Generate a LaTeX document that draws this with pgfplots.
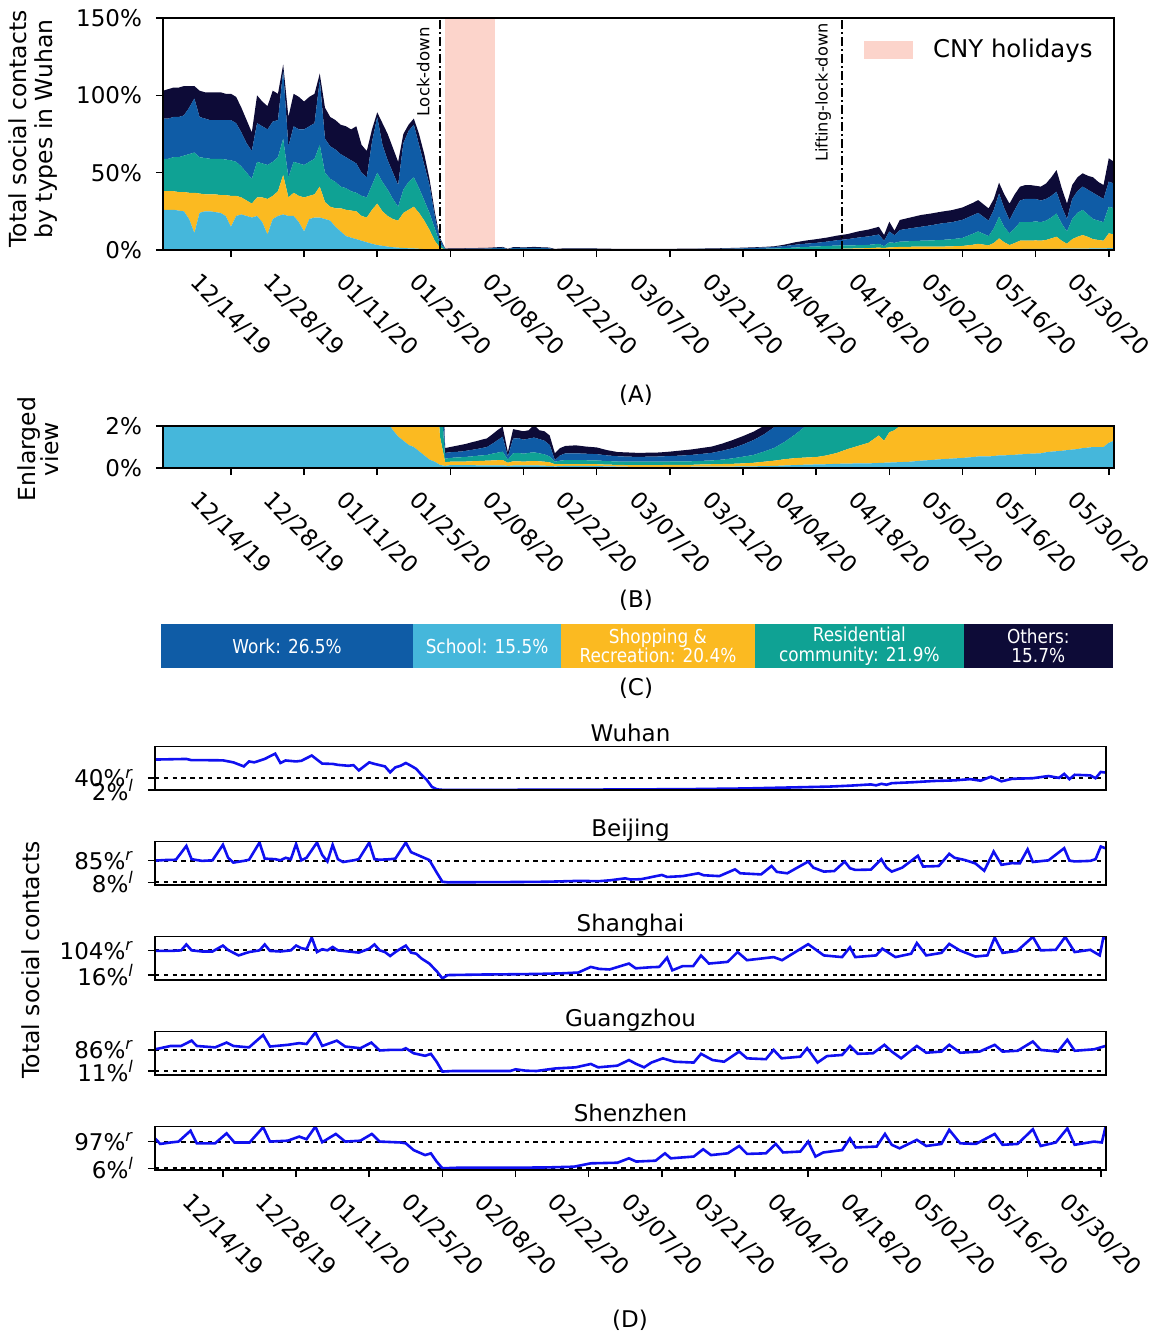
\documentclass[border=0pt]{standalone}
\usepackage{fontspec}
\setmainfont{DejaVu Sans}
\newfontfamily\condfont[FakeStretch=0.88]{DejaVu Sans}
\usepackage{pgfplots}
\usepackage{pgfplotstable}
\usepgfplotslibrary{fillbetween}
\pgfplotsset{compat=1.18}

\definecolor{cschool}{HTML}{45B7DB}
\definecolor{cshop}{HTML}{FBBA21}
\definecolor{cres}{HTML}{0FA294}
\definecolor{cwork}{HTML}{0F5CA6}
\definecolor{cother}{HTML}{0D0B37}
\definecolor{ccny}{HTML}{FCD4CB}
\definecolor{cline}{HTML}{1010F0}

\newcommand{\fs}{\fontsize{11.5}{13}\selectfont}

% stacked components (%): school, shopping, residential, work, others
\pgfplotstableread{
d S P R W O
-13 26 12 21 26 18
-12 26 12 21 26 19
-11 26 12 22 26 19
-10 25.5 12 22.5 26 19
-9 25 12.5 23.5 26 19
-8 20 17 25 30 14
-7 11 26 26 35 8
-6 24 12.5 23.5 26 17
-5 25 11 23.5 25.5 17
-4 25 11 23 25 18
-3 24.5 11.5 23 25 18
-2 24 11.5 23.5 25 18
-1 22 13.5 23 25.5 17
0 15 20 23 26 17
1 22 13 22 25 17
2 23 11 20 22 16
3 22 10 18 19 15
4 21 9 16 18 12
5 22 12 23 25 18
6 18 16 22 24 16
7 10 23 22 23 15
8 20 15 22 26 20
9 22 16 22 24 17
10 23 25.5 23.5 44 4
11 22 12 13 20 19
12 22 15 20 23 21
13 18 17 21 22 21
14 12 22 21 23 18
15 20 15 22 23 19
16 21 15 23 23 19
17 21 20 27 42 4
18 20 11 19 22 20
19 19 9 18 21 19
20 15 12 17 21 19
21 12 15 14 21 19
22 9 17 14 20 20
23 8 17.5 12.5 20 20
24 7 18 12 19 24
25 6 16 13 15 18
26 5 16 13 13 17
27 4 22 16 28 8
28 3.2 26.8 20 36 3
29 2.7 22.3 19 24 14
30 2.2 19.8 17 19 17
31 1.8 18.2 13 17 16
32 1.5 17.5 9 14 15
33 1.3 22.7 15 30 6
34 1.1 24.9 18 33 4
35 1.0 27 19 34 4
36 0.8 23.2 16 28 7
37 0.6 18.4 13 23 7
38 0.4 12.6 11 18 4
39 0.3 5.7 8 8 3
40 0.15 1.35 2.5 3 1
41 0.1 0.18 0.17 0.27 0.23
42 .14 .16 .18 .27 .25
43 .14 .16 .20 .27 .28
44 .14 .16 .21 .27 .32
45 .14 .17 .22 .29 .33
46 .14 .18 .23 .31 .36
47 .13 .20 .25 .32 .38
48 .13 .21 .26 .35 .40
49 .13 .22 .27 .38 .41
50 .13 .23 .32 .47 .45
51 .13 .24 .36 .59 .48
52 .13 .25 .40 .71 .48
53 .10 .15 .15 .15 .20
54 .12 .20 .38 .70 .45
55 .12 .20 .40 .70 .38
56 .12 .18 .38 .67 .40
57 .12 .20 .40 .68 .40
58 .12 .21 .42 .70 .60
59 .12 .20 .38 .68 .42
60 .11 .19 .35 .65 .45
61 .10 .17 .28 .55 .45
62 .08 .10 .12 .08 .32
63 .09 .10 .16 .25 .35
64 .10 .09 .19 .32 .35
66 .10 .09 .19 .32 .38
68 .10 .09 .18 .31 .34
70 .09 .09 .18 .30 .32
72 .08 .08 .17 .27 .25
74 .07 .08 .16 .25 .20
76 .06 .08 .16 .24 .20
78 .06 .08 .16 .23 .19
80 .06 .08 .16 .24 .19
82 .06 .08 .16 .25 .19
84 .06 .09 .16 .26 .21
86 .06 .09 .17 .27 .24
88 .06 .09 .17 .30 .26
90 .07 .10 .17 .33 .28
92 .07 .11 .18 .36 .30
94 .07 .12 .21 .42 .34
96 .07 .13 .26 .48 .39
98 .08 .14 .32 .58 .40
100 .08 .17 .37 .71 .40
102 .09 .21 .48 .82 .40
104 .10 .25 .61 .99 .45
106 .12 .30 .83 1.35 .90
108 .14 .33 1.13 1.8 1.6
110 .16 .34 1.5 2.1 2.0
112 .17 .35 1.78 2.3 2.4
114 .18 .42 2.0 2.8 2.6
116 .20 .52 2.18 3.4 3.0
118 .21 .69 2.1 4.0 3.3
120 .22 .83 2.05 4.9 4.0
122 .22 .98 2.1 5.5 4.4
124 .24 1.31 2.45 6.0 5.0
125 .25 1.05 1.2 3.5 3.7
126 .26 1.44 3.3 7.0 6.3
127 .27 1.53 2.8 4.9 3.0
128 .28 1.72 3.4 7.5 6.5
130 .30 1.8 3.6 8.3 7.0
132 .35 1.85 3.8 9.0 7.6
134 .38 1.82 4.0 9.8 7.6
136 .42 1.78 4.3 10.7 7.6
138 .45 1.95 4.6 11.0 7.8
140 .48 2.12 5.2 11.7 8.0
142 .52 2.88 7.1 12.0 8.0
143 .55 3.45 8.0 12.0 8.3
145 .55 2.45 6.0 10.0 7.9
146 .57 3.93 9.5 12 7
147 .6 6.9 14.1 15.0 6.9
148 .6 4.4 10 12 9
149 .62 2.58 7.6 8.6 10.6
150 .63 3.87 9.5 12 10
151 .65 5.35 12 14 8.9
152 .66 5.34 12 15 9
153 .68 5.32 12 15 9
154 .69 5.51 12.3 14.5 8.5
155 .7 5.3 12 14 9
156 .75 5.75 12.5 14 10
157 .78 6.72 13.5 14 12
158 .8 7.8 15.1 14 14
159 .82 5.18 11 11 12
160 .85 3.15 8 8 10
161 .88 6.12 13 13 9
162 .9 7.6 15.5 14 9
163 .95 8.75 16.2 15.1 8.6
164 .97 7.53 14.5 16 9
165 1.0 6 13 17 10
166 1.0 5.5 12.5 16 9
167 1.0 5 12 15 9
168 1.2 9.6 17.2 16.2 15.1
169 1.3 8.7 17 16 14
}\stacktab

\pgfplotstableread{
d v
-13 100
-10 101
-7 102
-6 98
-3 98
0 97.5
2 91
4 78
5 94
6 91
8 102
10 119
11 89
12 97
14 94
15 96
17 113
19 87
21 86
22 83
24 80
25 82
26 65
28 91
29 86
31 78
32 59
33 75
34 80
35 89
36 80
37 70
38 51
39 35
40 12
41 4
42 2.5
50 2.5
60 2.8
70 3.3
80 4
90 5
100 7
108 10
116 13
120 16
124 20
125 17
126 22
127 19
128 24
132 27
136 31
140 33
143 37
145 32
147 45
149 30
151 38
155 40
158 47
160 41
161 54
162 37
163 51
166 49
167 40
168 60
169 58
}\wuhan

\pgfplotstableread{
d v
-13 85
-11 87
-9 88
-7 137
-6 90
-4 84
-2 86
0 141
1 95
2 78
4 84
5 88
7 149
8 92
10 90
11 86
12 95
13 90
14 144
15 86
16 95
18 149
19 105
20 82
21 141
22 90
23 80
25 86
26 90
28 149
29 90
30 88
32 90
33 92
35 149
36 115
38 99
39.5 87
41 40
42 10
43 8
50 8.5
56 9
62 10
68 13
72 12
74 15
77 22
78 18
80 19
84 34
85 27
88 30
91 40
92 33
95 30
98 54
99 40
101 38
103 36
105 66
106 45
108 40
112 81.5
113 60
115 46
117 48
119 81.5
120 58
121 52
124 53
126 90
127 60
128 46
130 60
133 102
134 64
136 65
137 66
139 109
140 95
142 87
144 75
145.7 49
147.5 117
149 70
151 76
152.5 75
154 125
155 80
158 86
161 129
162 85
163 82
166 84
167 90
168 135
169 128
}\beijing

\pgfplotstableread{
d v
-13 102
-10 102
-8 104
-7 125
-6 104
-4 100
-2 100
0 121
1 105
3 86
5 98
7 104
8 125
9 102
11 100
13 104
14 121
15 112
16 108
17 150
18 98
19 108
20 104
21 116
22 104
24 100
26 96
28 110
29 125
30 104
31 98
32 84
33 98
34 110
35 121
36 96
37 92
38 75
39.5 57
41 28
42 4
43 16
50 18
56 19
60 20
64.6 22
68 25
70.4 45
72 38
74 36
77.7 57
79 40
82 44
83.5 45
85 78
86 33
88 48
90 48
91.5 86
93 57
96.6 63
98.5 98
100.3 69
105.4 80
107 69
112 126
115 86
118.5 80
120 115
121 80
125 86
126.2 110
128.7 80
131.7 92
132.8 130
134.6 86
137.5 95
139 127
141 104
144 82
146.3 86
147.7 150
149.2 95
152 102
155 152
156.5 104
159.4 106
161.2 152
163 98
166 106
167.8 86
168.5 150
169 145
}\shanghai

\pgfplotstableread{
d v
-13 88
-10 100
-8 100
-6 119
-5 100
-1.5 95
0.7 112
2 100
5 95
7.7 139
9 98
12.4 104
14.6 110
16 107
17.7 148
19 100
21.8 119
23.4 98
26.3 92
28.4 112
30 84
32 86
34.3 86
35 92
36.5 74
38.7 65
39.8 72
40.9 44
42 9
44 11
50 11
55 11
56 17
58 12
60 11
63.6 20
67.5 24
70.4 36
71.8 24
75.5 30
77.7 50
79.1 36
80.6 24
82 41
84.2 56
86.4 44
90.1 41
91.5 72
93.7 50
95.9 44
98.8 80
100.3 56
103.9 53
105.4 86
106.9 56
110.5 62
111.8 92
113.8 41
115.6 64
118.5 68
120 100
121.5 72
124.4 74
126.6 104
128 80
129.8 56
132.8 100
134.6 76
137.5 80
139 104
141.1 76
144.8 80
147.7 104
149.2 80
152.1 83
155 116
156.5 86
159.8 80
161.6 122
163 83
166.7 88
168.9 100
}\guangzhou

\pgfplotstableread{
d v
-13 108
-12 89
-10 94
-8.5 97
-6.2 134
-5 91
-1.5 91
0.7 125
2.2 94
5.1 94
7.7 146
9 97
12.4 100
14.6 114
16 105
17.7 148
19 95
21.6 123
23.4 97
26.3 100
28.5 123
30 97
34 94
35 91
36.5 68
38.7 51
39.8 57
40.9 29
42 6
45 8
55 8
62 9
67.2 11.5
70.4 23
75.5 25
77.7 40
79.1 29
82.8 32
84.6 57
85.7 40
90.1 46
91.9 71
93.4 51
96.6 57
98.8 82
100.3 55
103.9 57
105.8 89
107.2 60
110.5 63
112 97
113.4 46
114.9 60
118.5 68
120 108
121.1 77
125.1 80
126.7 123
128 86
129.5 74
132.8 103
134.6 82
137.5 89
139 137
141.1 91
144.1 89
147.7 123
149.2 86
152.1 89
155 139
156.5 82
159.4 94
161.6 142
163 86
166.7 97
168.2 94
168.9 146
}\shenzhen

\tikzset{ctext/.style={text=white, align=center, inner sep=0pt, font=\condfont\fontsize{9.6}{9.8}\selectfont}}

\pgfplotsset{
  myax/.style={
    scale only axis, anchor=south west, width=475.5pt,
    xmin=-13, xmax=169,
    axis line style={line width=0.8pt, black},
    tick style={line width=0.8pt, black},
    tick align=outside, major tick length=3.5pt,
    xtick pos=bottom, ytick pos=left,
    xtick={0,14,...,168},
    xticklabels={12/14/19,12/28/19,01/11/20,01/25/20,02/08/20,02/22/20,03/07/20,03/21/20,04/04/20,04/18/20,05/02/20,05/16/20,05/30/20},
    xticklabel style={yshift=-29pt, rotate=-45, anchor=center, font=\fs},
    yticklabel style={font=\fs, xshift=-3.5pt},
  },
  dax/.style={myax, height=21.75pt, axis on top,
    title style={font=\fs, anchor=base, inner sep=0pt, yshift=-3.25pt},
    yticklabel style={font=\fs, xshift=0pt}},
  dline/.style={color=cline, line width=1.3pt},
  dref/.style={black, line width=1pt, dash pattern=on 2.2pt off 2.2pt},
}

\begin{document}
\begin{tikzpicture}
\path[use as bounding box] (0pt,0pt) rectangle (579.5pt,-667.5pt);

% ---------- (A) background: CNY holidays
\begin{axis}[myax, at={(81.5pt,-125pt)}, height=116pt, ymin=0, ymax=150, hide axis]
\addplot[fill=ccny, draw=none] coordinates {(41,150) (50.5,150)} \closedcycle;
\end{axis}

% ---------- (A) stacked areas
\begin{axis}[myax, at={(81.5pt,-125pt)}, height=116pt, ymin=0, ymax=150, hide axis, stack plots=y]
\addplot[fill=cschool, draw=none] table[x=d,y=S]{\stacktab} \closedcycle;
\addplot[fill=cshop, draw=none] table[x=d,y=P]{\stacktab} \closedcycle;
\addplot[fill=cres, draw=none] table[x=d,y=R]{\stacktab} \closedcycle;
\addplot[fill=cwork, draw=none] table[x=d,y=W]{\stacktab} \closedcycle;
\addplot[fill=cother, draw=none] table[x=d,y=O]{\stacktab} \closedcycle;
\end{axis}

% ---------- (A) frame, ticks, events, legend
\begin{axis}[myax, at={(81.5pt,-125pt)}, height=116pt, ymin=0, ymax=150,
  ytick={0,50,100,150}, yticklabels={0\%,50\%,100\%,150\%},
  legend style={at={(0.737,0.862)}, anchor=west, draw=none, fill=none,
    inner sep=0pt, column sep=10pt, font=\fontsize{12.2}{14}\selectfont,
    nodes={inner sep=0pt}},
  legend image code/.code={\fill[ccny] (0pt,-4.4pt) rectangle (24pt,4.4pt);}]
\addlegendimage{ccny}
\addlegendentry{CNY holidays}
\addplot[black, line width=0.9pt, dash pattern=on 4.5pt off 1.5pt on 1pt off 1.5pt] coordinates {(40,0) (40,150)};
\addplot[black, line width=0.9pt, dash pattern=on 4.5pt off 1.5pt on 1pt off 1.5pt] coordinates {(117,0) (117,150)};
\node[rotate=90, anchor=south east, inner sep=0pt, font=\fontsize{8.3}{9}\selectfont] at ([xshift=-5pt,yshift=-4.5pt]axis cs:40,150) {Lock-down};
\node[rotate=90, anchor=south east, inner sep=0pt, font=\fontsize{8.1}{9}\selectfont] at ([xshift=-5.5pt,yshift=-2.5pt]axis cs:117,150) {Lifting-lock-down};
\end{axis}

% ---------- (B) enlarged view: stacked fill
\begin{axis}[myax, at={(81.5pt,-234pt)}, height=21pt, ymin=0, ymax=2, stack plots=y, hide axis]
\addplot[fill=cschool, draw=none] table[x=d,y=S]{\stacktab} \closedcycle;
\addplot[fill=cshop, draw=none] table[x=d,y=P]{\stacktab} \closedcycle;
\addplot[fill=cres, draw=none] table[x=d,y=R]{\stacktab} \closedcycle;
\addplot[fill=cwork, draw=none] table[x=d,y=W]{\stacktab} \closedcycle;
\addplot[fill=cother, draw=none] table[x=d,y=O]{\stacktab} \closedcycle;
\end{axis}
% (B) frame
\begin{axis}[myax, at={(81.5pt,-234pt)}, height=21pt, ymin=0, ymax=2,
  ytick={0,2}, yticklabels={0\%,2\%}]
\addplot[draw=none] coordinates {(0,0)};
\end{axis}

% ---------- (C) shares
\begin{axis}[scale only axis, anchor=south west, at={(80.5pt,-334pt)}, width=476pt, height=22pt,
  xmin=0, xmax=100, ymin=-0.5, ymax=0.5, hide axis, xbar stacked, bar width=22pt]
\addplot[fill=cwork, draw=none] coordinates {(26.5,0)};
\addplot[fill=cschool, draw=none] coordinates {(15.5,0)};
\addplot[fill=cshop, draw=none] coordinates {(20.4,0)};
\addplot[fill=cres, draw=none] coordinates {(21.9,0)};
\addplot[fill=cother, draw=none] coordinates {(15.7,0)};
\end{axis}
\begin{axis}[scale only axis, anchor=south west, at={(80.5pt,-334pt)}, width=476pt, height=22pt,
  xmin=0, xmax=100, ymin=-0.5, ymax=0.5, hide axis]
\addplot[draw=none] coordinates {(0,0)};
\node[ctext] at (axis cs:13.25,0) {Work: 26.5\%};
\node[ctext] at (axis cs:34.25,0) {School: 15.5\%};
\node[ctext] at (axis cs:52.2,0) {Shopping \&\\Recreation: 20.4\%};
\node[ctext] at (axis cs:73.35,0) {Residential\\community: 21.9\%};
\node[ctext] at (axis cs:92.15,0) {Others:\\15.7\%};
\end{axis}

% ---------- (D) cities
\begin{axis}[dax, at={(77.5pt,-395pt)}, ymin=2, ymax=142, xtick=\empty, title={Wuhan},
  ytick={2,40}, yticklabels={2\%\textsuperscript{\textit{l}},40\%\textsuperscript{\textit{r}}}]
\addplot[dref] coordinates {(-13,40) (169,40)};
\addplot[dref] coordinates {(-13,2) (169,2)};
\addplot[dline] table[x=d,y=v]{\wuhan};
\end{axis}

\begin{axis}[dax, at={(77.5pt,-442.5pt)}, ymin=-1.6, ymax=152.7, xtick=\empty, title={Beijing},
  ytick={8,85}, yticklabels={8\%\textsuperscript{\textit{l}},85\%\textsuperscript{\textit{r}}}]
\addplot[dref] coordinates {(-13,85) (169,85)};
\addplot[dref] coordinates {(-13,8) (169,8)};
\addplot[dline] table[x=d,y=v]{\beijing};
\end{axis}

\begin{axis}[dax, at={(77.5pt,-490pt)}, ymin=-1.6, ymax=153.3, xtick=\empty, title={Shanghai},
  ytick={16,104}, yticklabels={16\%\textsuperscript{\textit{l}},104\%\textsuperscript{\textit{r}}}]
\addplot[dref] coordinates {(-13,104) (169,104)};
\addplot[dref] coordinates {(-13,16) (169,16)};
\addplot[dline] table[x=d,y=v]{\shanghai};
\end{axis}

\begin{axis}[dax, at={(77.5pt,-537.5pt)}, ymin=-3.3, ymax=151.4, xtick=\empty, title={Guangzhou},
  ytick={11,86}, yticklabels={11\%\textsuperscript{\textit{l}},86\%\textsuperscript{\textit{r}}}]
\addplot[dref] coordinates {(-13,86) (169,86)};
\addplot[dref] coordinates {(-13,11) (169,11)};
\addplot[dline] table[x=d,y=v]{\guangzhou};
\end{axis}

\begin{axis}[dax, at={(77.5pt,-585pt)}, ymin=0.2, ymax=148.3, title={Shenzhen},
  ytick={6,97}, yticklabels={6\%\textsuperscript{\textit{l}},97\%\textsuperscript{\textit{r}}}]
\addplot[dref] coordinates {(-13,97) (169,97)};
\addplot[dref] coordinates {(-13,6) (169,6)};
\addplot[dline] table[x=d,y=v]{\shenzhen};
\end{axis}

% ---------- labels
\node[rotate=90, align=center, font=\fontsize{11.75}{13.2}\selectfont] at (16.5pt,-64.5pt) {Total social contacts\\by types in Wuhan};
\node[rotate=90, align=center, font=\fontsize{11.75}{11.5}\selectfont] at (19pt,-224.5pt) {Enlarged\\view};
\node[rotate=90, font=\fontsize{11.75}{13}\selectfont] at (15.5pt,-480pt) {Total social contacts};
\node[font=\fs] at (318pt,-197.5pt) {(A)};
\node[font=\fs] at (318pt,-300pt) {(B)};
\node[font=\fs] at (318pt,-344pt) {(C)};
\node[font=\fs] at (315pt,-660pt) {(D)};
\end{tikzpicture}
\end{document}
